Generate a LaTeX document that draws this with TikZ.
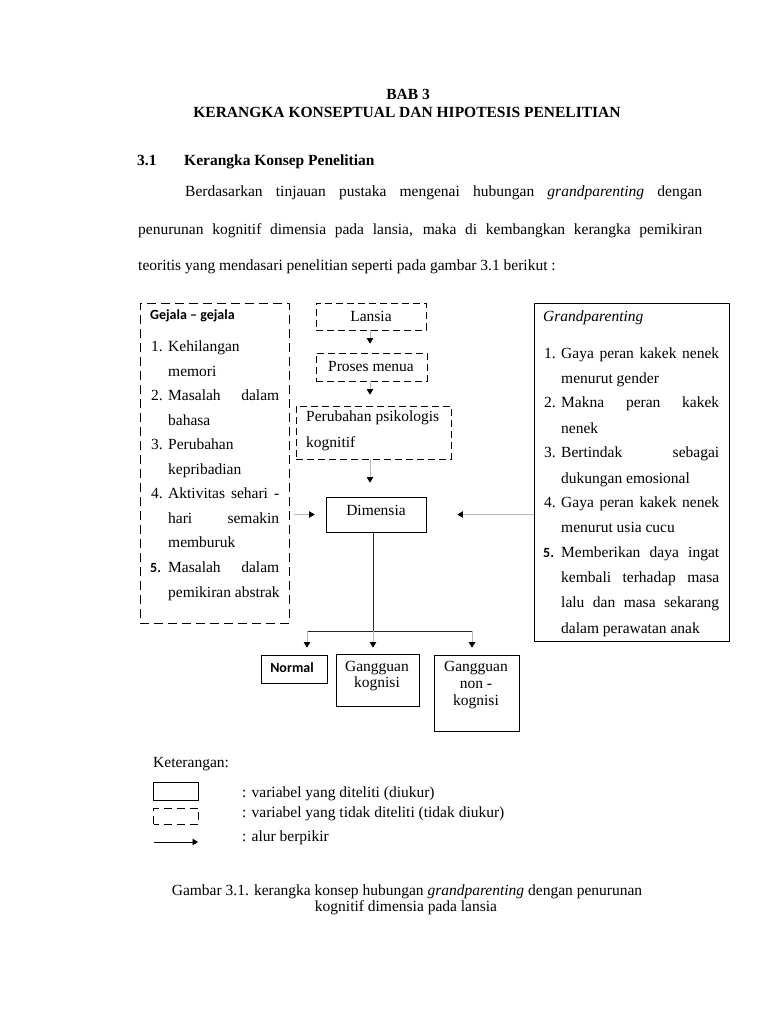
\documentclass[tikz,border=0pt]{standalone}
\usepackage{fontspec}
\setmainfont{Liberation Serif}
\newfontfamily\calfont{Carlito}
\usetikzlibrary{arrows.meta}
\tikzset{
  txt/.style={anchor=base west, inner sep=0pt, font=\fontsize{15.5}{18}\selectfont},
  ctxt/.style={txt, anchor=base},
  sbold/.style={anchor=base west, inner sep=0pt, font=\fontsize{14}{16}\selectfont\calfont\bfseries},
  box/.style={draw, line width=0.8pt, inner sep=0pt},
  dbox/.style={box, dash pattern=on 7pt off 4pt},
  arr/.style={draw=gray!55, line width=0.7pt, -{Triangle[length=5.5pt,width=6.5pt,color=black]}},
  line/.style={draw=black!85, line width=1pt},
}
\begin{document}
\begin{tikzpicture}[x=1pt,y=-1pt]
\useasboundingbox[fill=white] (0,0) rectangle (768,1024);

% heading and paragraph
\node[ctxt] (bab) at (408,100) {\bfseries BAB 3};
\node[ctxt] (judul) at (407,118) {\bfseries KERANGKA KONSEPTUAL DAN HIPOTESIS PENELITIAN};
\node[txt] (secnum) at (137,166) {\bfseries 3.1};
\node[txt] (sectitle) at (184,166) {\bfseries Kerangka Konsep Penelitian};
\node[txt] (p1) at (185,197) {\makebox[517pt][s]{Berdasarkan tinjauan pustaka mengenai hubungan \textit{grandparenting} dengan}};
\node[txt] (p2) at (138,234) {\makebox[564pt][s]{penurunan kognitif dimensia pada lansia, maka di kembangkan kerangka pemikiran}};
\node[txt] (p3) at (138,270) {teoritis yang mendasari penelitian seperti pada gambar 3.1 berikut :};

% Gejala box
\node[dbox, minimum width=149pt, minimum height=320pt, dash pattern=on 9pt off 5pt] (gejala) at (214.5,463) {};
\node[sbold] (gjt) at (150,319) {Gejala – gejala};
\node[txt] (g1n) at (151,351) {1.};
\node[txt] (g1a) at (168,351) {Kehilangan};
\node[txt] (g1b) at (168,376) {memori};
\node[txt] (g2n) at (151,400) {2.};
\node[txt] (g2a) at (168,400) {\makebox[111pt][s]{Masalah dalam}};
\node[txt] (g2b) at (168,425) {bahasa};
\node[txt] (g3n) at (151,449) {3.};
\node[txt] (g3a) at (168,449) {Perubahan};
\node[txt] (g3b) at (168,474) {kepribadian};
\node[txt] (g4n) at (151,498) {4.};
\node[txt] (g4a) at (168,498) {\makebox[111pt][s]{Aktivitas sehari -}};
\node[txt] (g4b) at (168,523) {\makebox[111pt][s]{hari semakin}};
\node[txt] (g4c) at (168,547) {memburuk};
\node[sbold] (g5n) at (150,572) {5.};
\node[txt] (g5a) at (168,572) {\makebox[111pt][s]{Masalah dalam}};
\node[txt] (g5b) at (168,597) {pemikiran abstrak};

% Grandparenting box
\node[box, minimum width=195pt, minimum height=338pt] (grand) at (631.5,472) {};
\node[txt] (grt) at (543,321) {\itshape Grandparenting};
\node[txt] (r1n) at (544,358) {1.};
\node[txt] (r1a) at (561,358) {\makebox[158pt][s]{Gaya peran kakek nenek}};
\node[txt] (r1b) at (561,383) {menurut gender};
\node[txt] (r2n) at (544,407) {2.};
\node[txt] (r2a) at (561,407) {\makebox[158pt][s]{Makna peran kakek}};
\node[txt] (r2b) at (561,433) {nenek};
\node[txt] (r3n) at (544,457) {3.};
\node[txt] (r3a) at (561,457) {\makebox[158pt][s]{Bertindak sebagai}};
\node[txt] (r3b) at (561,483) {dukungan emosional};
\node[txt] (r4n) at (544,507) {4.};
\node[txt] (r4a) at (561,507) {\makebox[158pt][s]{Gaya peran kakek nenek}};
\node[txt] (r4b) at (561,532) {menurut usia cucu};
\node[sbold] (r5n) at (543,557) {5.};
\node[txt] (r5a) at (561,557) {\makebox[158pt][s]{Memberikan daya ingat}};
\node[txt] (r5b) at (561,582) {\makebox[158pt][s]{kembali terhadap masa}};
\node[txt] (r5c) at (561,607) {\makebox[158pt][s]{lalu dan masa sekarang}};
\node[txt] (r5d) at (561,633) {dalam perawatan anak};

% central chain
\node[dbox, minimum width=110pt, minimum height=27pt] (lansia) at (371,316.5) {};
\node[ctxt] (lansiat) at (371,321) {Lansia};
\node[dbox, minimum width=111pt, minimum height=28pt] (proses) at (371.5,367) {};
\node[ctxt] (prosest) at (371,371) {Proses menua};
\node[dbox, minimum width=155pt, minimum height=53pt] (perub) at (373.5,432.5) {};
\node[txt] (perubt1) at (306,421) {Perubahan psikologis};
\node[txt] (perubt2) at (306,447) {kognitif};
\node[box, minimum width=100pt, minimum height=35pt] (dimensia) at (376,514.5) {};
\node[ctxt] (dimensiat) at (376,515) {Dimensia};

\coordinate (ax) at (370,0);
\draw[arr, shorten >=9pt] (lansia.south -| ax) -- (proses.north -| ax);
\draw[arr, shorten >=11pt] (proses.south -| ax) -- (perub.north -| ax);
\draw[arr, shorten >=14pt] (perub.south -| ax) -- (dimensia.north -| ax);
\draw[arr, shorten <=5pt, shorten >=11pt] (dimensia.west -| gejala.east) -- (dimensia.west);
\draw[arr, shorten >=31pt] (dimensia.east -| grand.west) -- (dimensia.east);

% branches
\coordinate (split) at (373,631);
\coordinate (b1) at (307,631);
\coordinate (b3) at (472,631);
\draw[line] (dimensia.south -| split) -- (split);
\draw[line] (b1) -- (b3);

\node[box, minimum width=66pt, minimum height=28pt] (normal) at (294,669) {};
\node[sbold, anchor=base] (normalt) at (292,672) {Normal};
\node[box, minimum width=83pt, minimum height=52pt] (gk) at (377.5,680) {};
\node[ctxt] (gkt1) at (377,671) {Gangguan};
\node[ctxt] (gkt2) at (377,687) {kognisi};
\node[box, minimum width=85pt, minimum height=76pt] (gnk) at (476.5,693) {};
\node[ctxt] (gnkt1) at (476,671) {Gangguan};
\node[ctxt] (gnkt2) at (476,688) {non -};
\node[ctxt] (gnkt3) at (476,705) {kognisi};

\draw[arr, shorten >=7pt] (b1) -- (normal.north -| b1);
\draw[arr, shorten >=6pt] (split) -- (gk.north -| split);
\draw[arr, shorten >=7pt] (b3) -- (gnk.north -| b3);

% legend
\node[txt] (ket) at (153,767) {Keterangan:};
\node[box, minimum width=45pt, minimum height=18pt] (legsolid) at (175.5,791) {};
\node[txt] (legsolidt) at (242,797) {: variabel yang diteliti (diukur)};
\node[box, minimum width=45pt, minimum height=16pt, dash pattern=on 8pt off 5pt, dash phase=3pt] (legdash) at (176,816) {};
\node[txt] (legdasht) at (242,817) {: variabel yang tidak diteliti (tidak diukur)};
\coordinate (la1) at (154,842);
\coordinate (la2) at (198,842);
\draw[line width=0.7pt, -{Triangle[length=5.5pt,width=6.5pt]}] (la1) -- (la2);
\node[txt] (legarrt) at (242,841) {: alur berpikir};

% caption
\node[ctxt] (cap1) at (407,895) {Gambar 3.1. kerangka konsep hubungan \textit{grandparenting} dengan penurunan};
\node[ctxt] (cap2) at (406,911) {kognitif dimensia pada lansia};
\end{tikzpicture}
\end{document}
